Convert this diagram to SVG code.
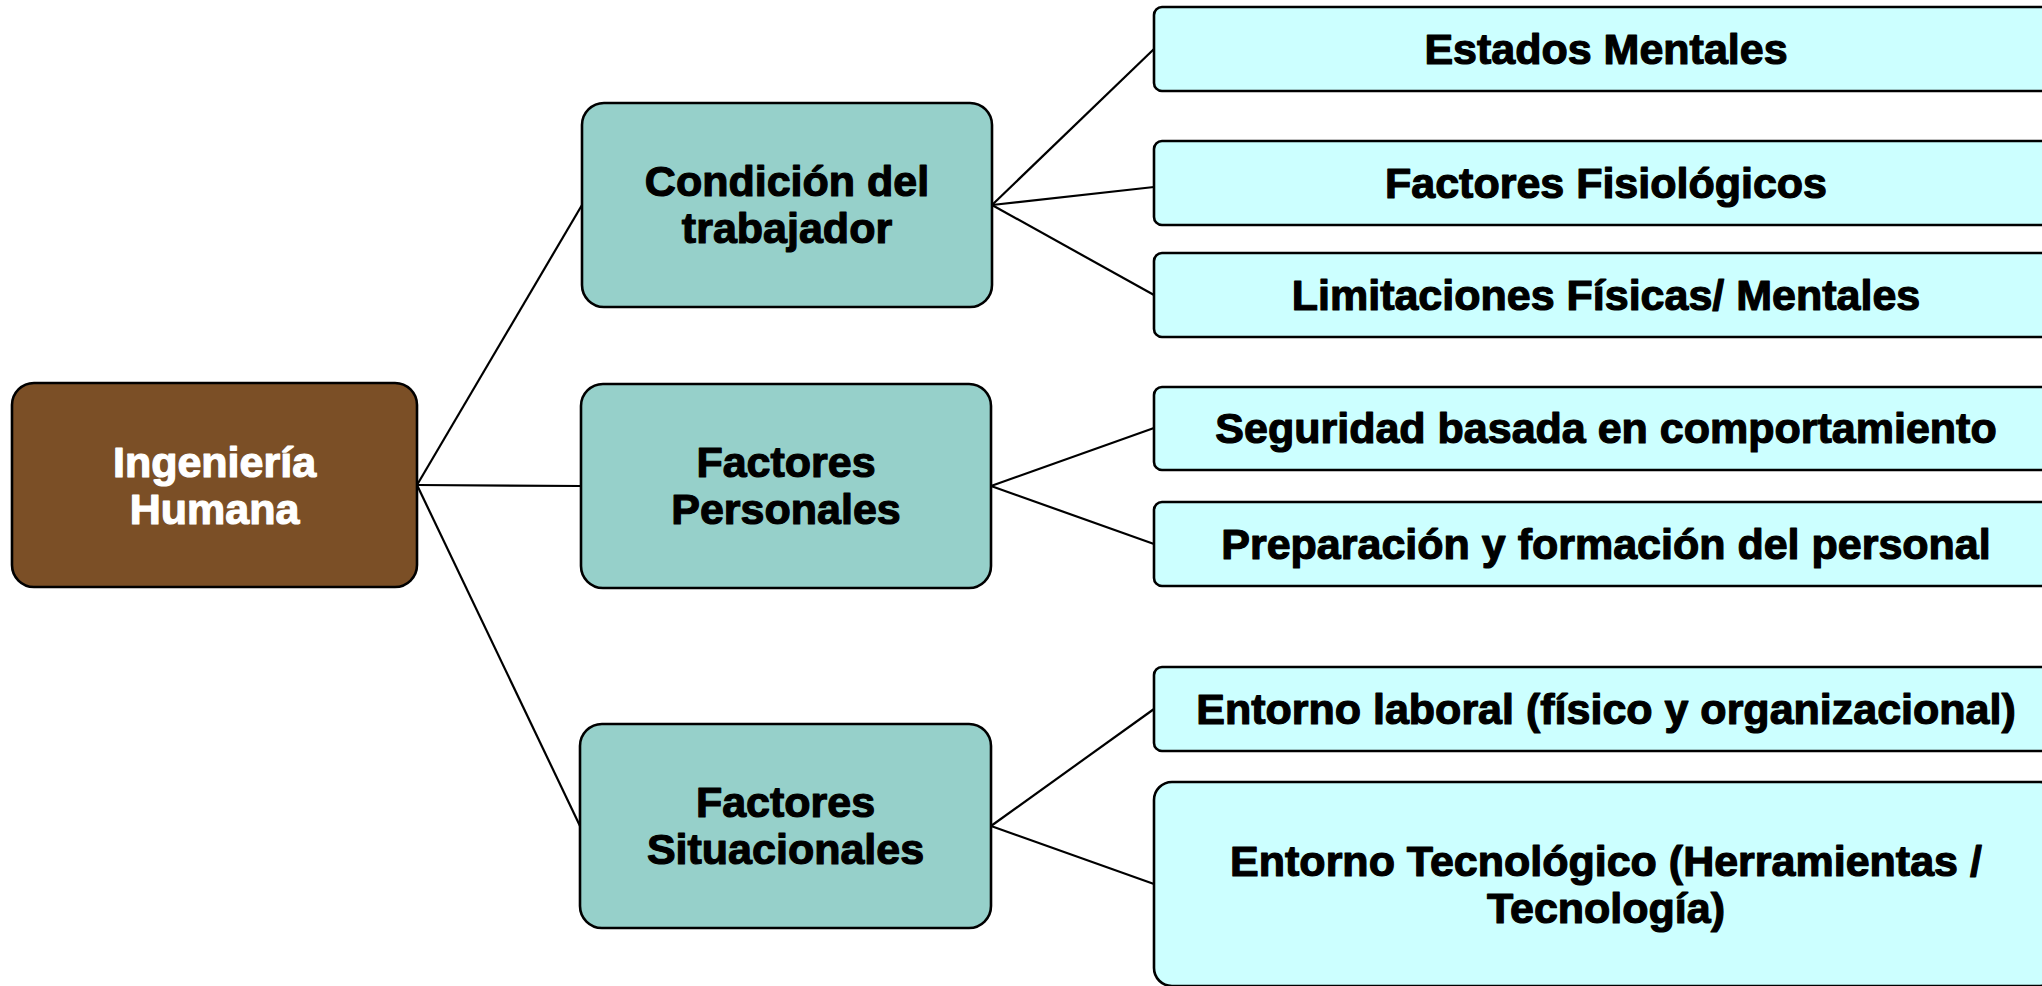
<svg xmlns="http://www.w3.org/2000/svg" width="2042" height="986" viewBox="0 0 2042 986">
<style>
.box{stroke:#000;stroke-width:2.6}
.root{fill:#7B4F26}
.mid{fill:#96D0CA}
.leaf{fill:#CCFFFF}
text{font-family:"Liberation Sans",Arial,sans-serif;font-weight:bold;font-size:43px;text-anchor:middle;stroke-width:1.2;stroke-linejoin:round}
.w{fill:#fff;stroke:#fff}
.k{fill:#000;stroke:#000}
.conn line{stroke:#000;stroke-width:2.2}
</style>
<rect width="2042" height="986" fill="#fff"/>
<g class="conn">
<line x1="417" y1="485" x2="582" y2="205"/>
<line x1="417" y1="485" x2="581" y2="486"/>
<line x1="417" y1="485" x2="580" y2="826"/>
<line x1="992" y1="205" x2="1154" y2="49"/>
<line x1="992" y1="205" x2="1154" y2="187"/>
<line x1="992" y1="205" x2="1154" y2="295"/>
<line x1="991" y1="486" x2="1154" y2="428"/>
<line x1="991" y1="486" x2="1154" y2="544"/>
<line x1="991" y1="826" x2="1154" y2="709"/>
<line x1="991" y1="826" x2="1154" y2="884"/>
</g>
<g id="root">
<rect class="box root" x="12" y="383" width="405" height="204" rx="22"/>
<text class="w" x="214.5" y="477">Ingeniería</text>
<text class="w" x="214.5" y="524">Humana</text>
</g>
<g id="condicion">
<rect class="box mid" x="582" y="103" width="410" height="204" rx="22"/>
<text class="k" x="787" y="196">Condición del</text>
<text class="k" x="787" y="243">trabajador</text>
</g>
<g id="personales">
<rect class="box mid" x="581" y="384" width="410" height="204" rx="22"/>
<text class="k" x="786" y="477">Factores</text>
<text class="k" x="786" y="524">Personales</text>
</g>
<g id="situacionales">
<rect class="box mid" x="580" y="724" width="411" height="204" rx="22"/>
<text class="k" x="785.5" y="817">Factores</text>
<text class="k" x="785.5" y="864">Situacionales</text>
</g>
<g id="estados">
<rect class="box leaf" x="1154" y="7" width="904" height="84" rx="8"/>
<text class="k" x="1606" y="64">Estados Mentales</text>
</g>
<g id="fisiologicos">
<rect class="box leaf" x="1154" y="141" width="904" height="84" rx="8"/>
<text class="k" x="1606" y="198">Factores Fisiológicos</text>
</g>
<g id="limitaciones">
<rect class="box leaf" x="1154" y="253" width="904" height="84" rx="8"/>
<text class="k" x="1606" y="310">Limitaciones Físicas/ Mentales</text>
</g>
<g id="seguridad">
<rect class="box leaf" x="1154" y="387" width="904" height="83" rx="8"/>
<text class="k" x="1606" y="443">Seguridad basada en comportamiento</text>
</g>
<g id="preparacion">
<rect class="box leaf" x="1154" y="502" width="904" height="84" rx="8"/>
<text class="k" x="1606" y="559">Preparación y formación del personal</text>
</g>
<g id="laboral">
<rect class="box leaf" x="1154" y="667" width="904" height="84" rx="8"/>
<text class="k" x="1606" y="724">Entorno laboral (físico y organizacional)</text>
</g>
<g id="tecnologico">
<rect class="box leaf" x="1154" y="782" width="904" height="204" rx="18"/>
<text class="k" x="1606" y="876">Entorno Tecnológico (Herramientas /</text>
<text class="k" x="1606" y="923">Tecnología)</text>
</g>
</svg>
